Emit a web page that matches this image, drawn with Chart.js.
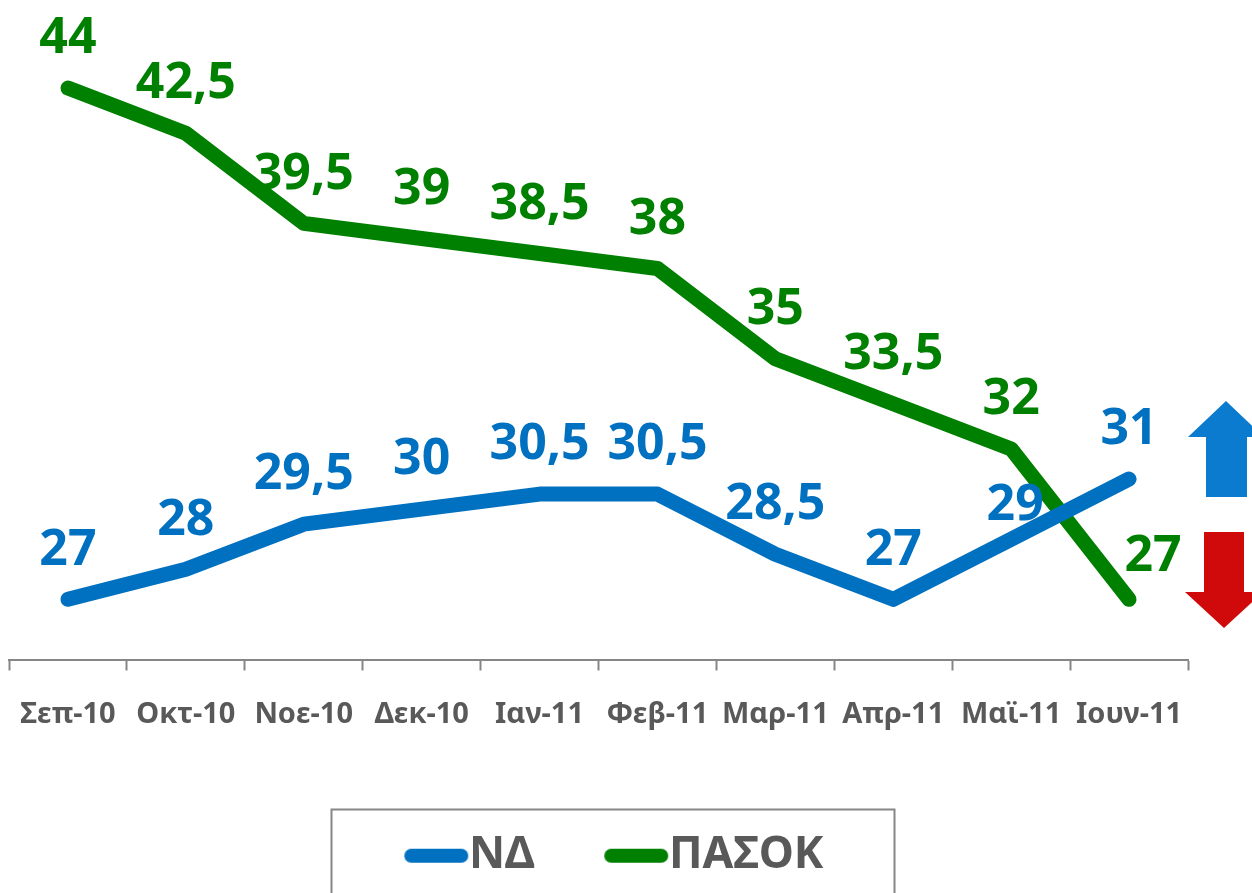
<!DOCTYPE html>
<html><head><meta charset="utf-8">
<style>html,body{margin:0;padding:0;background:#fff;overflow:hidden}#w{position:relative;width:1252px;height:893px}</style>
<script src="https://cdn.jsdelivr.net/npm/chart.js@4/dist/chart.umd.min.js"></script>
</head><body><div id="w"><canvas id="c" width="1252" height="893"></canvas></div>
<script>
const categories = ['Σεπ-10','Οκτ-10','Νοε-10','Δεκ-10','Ιαν-11','Φεβ-11','Μαρ-11','Απρ-11','Μαϊ-11','Ιουν-11'];
const ndValues = [27,28,29.5,30,30.5,30.5,28.5,27,29,31];
const pasokValues = [44,42.5,39.5,39,38.5,38,35,33.5,32,27];
const seriesNames = ['ΝΔ','ΠΑΣΟΚ'];
const ndColor = '#0070C0', pasokColor = '#008000', greyText = '#595959', axisGrey = '#868686';
const FONT = '"Noto Sans", sans-serif';
const labelOffsets = {'0:8':[4,16], '1:9':[24,6]};

function lineSwatch(color){
  const s=document.createElement('canvas'); s.width=70; s.height=16;
  const g=s.getContext('2d'); g.strokeStyle=color; g.lineWidth=14; g.lineCap='round';
  g.beginPath(); g.moveTo(12,8); g.lineTo(62,8); g.stroke(); return s;
}
const valueLabels = {
  id:'valueLabels',
  afterDatasetsDraw(ch){
    const g=ch.ctx; g.save();
    g.font='bold 50px '+FONT; g.textAlign='center'; g.textBaseline='middle';
    ch.data.datasets.forEach((d,i)=>{
      const m=ch.getDatasetMeta(i); g.fillStyle=d.borderColor;
      d.data.forEach((v,j)=>{
        const o=labelOffsets[i+':'+j]||[0,0];
        g.fillText(String(v).replace('.',','), m.data[j].x+o[0], m.data[j].y-49+o[1]);
      });
    });
    g.restore();
  }
};
const decorations = {
  id:'decorations',
  afterLayout(ch){ const l=ch.legend; l.left+=24; l.right+=24; l.top-=5; l.bottom-=5; },
  afterDraw(ch){
    const g=ch.ctx; g.save();
    g.strokeStyle=axisGrey; g.lineWidth=2; g.strokeRect(331.5,809.5,563,120);
    g.fillStyle='#0A7BCE';
    g.beginPath();[[1226,401],[1264,437],[1247,437],[1247,497],[1206,497],[1206,437],[1188,437]].forEach(p=>g.lineTo(p[0],p[1]));g.closePath();g.fill();
    g.fillStyle='#D00A0A';
    g.beginPath();[[1204,532],[1244,532],[1244,592],[1263,592],[1224,628],[1185,592],[1204,592]].forEach(p=>g.lineTo(p[0],p[1]));g.closePath();g.fill();
    g.restore();
  }
};
new Chart(document.getElementById('c'),{
  type:'line',
  data:{labels:categories,datasets:[
    {label:seriesNames[0],data:ndValues,borderColor:ndColor,backgroundColor:ndColor,borderWidth:15,borderCapStyle:'round',borderJoinStyle:'round',pointRadius:0,tension:0,fill:false},
    {label:seriesNames[1],data:pasokValues,borderColor:pasokColor,backgroundColor:pasokColor,borderWidth:15,borderCapStyle:'round',borderJoinStyle:'round',pointRadius:0,tension:0,fill:false}
  ]},
  options:{
    responsive:false,animation:false,
    layout:{padding:{left:9,right:64,top:58,bottom:0}},
    plugins:{tooltip:{enabled:false},title:{display:false},
      legend:{position:'bottom',labels:{
        usePointStyle:true,pointStyleWidth:25,padding:87,color:greyText,
        font:{family:FONT,weight:'bold',size:44.5},
        generateLabels(ch){return ch.data.datasets.map((d,i)=>({text:d.label,fontColor:greyText,pointStyle:lineSwatch(d.borderColor),datasetIndex:i,lineWidth:0,hidden:false}));}
      }}
    },
    scales:{
      y:{display:false,min:25,max:45},
      x:{offset:true,
        grid:{offset:true,drawOnChartArea:false,drawTicks:true,tickLength:11,tickColor:axisGrey,tickWidth:2},
        border:{color:axisGrey,width:2},
        ticks:{color:greyText,font:{family:FONT,weight:'bold',size:29},padding:27,maxRotation:0,minRotation:0,autoSkip:false},
        afterFit(s){s.height=92;s.paddingLeft=0;s.paddingRight=0;}
      }
    }
  },
  plugins:[valueLabels,decorations]
});
</script></body></html>
